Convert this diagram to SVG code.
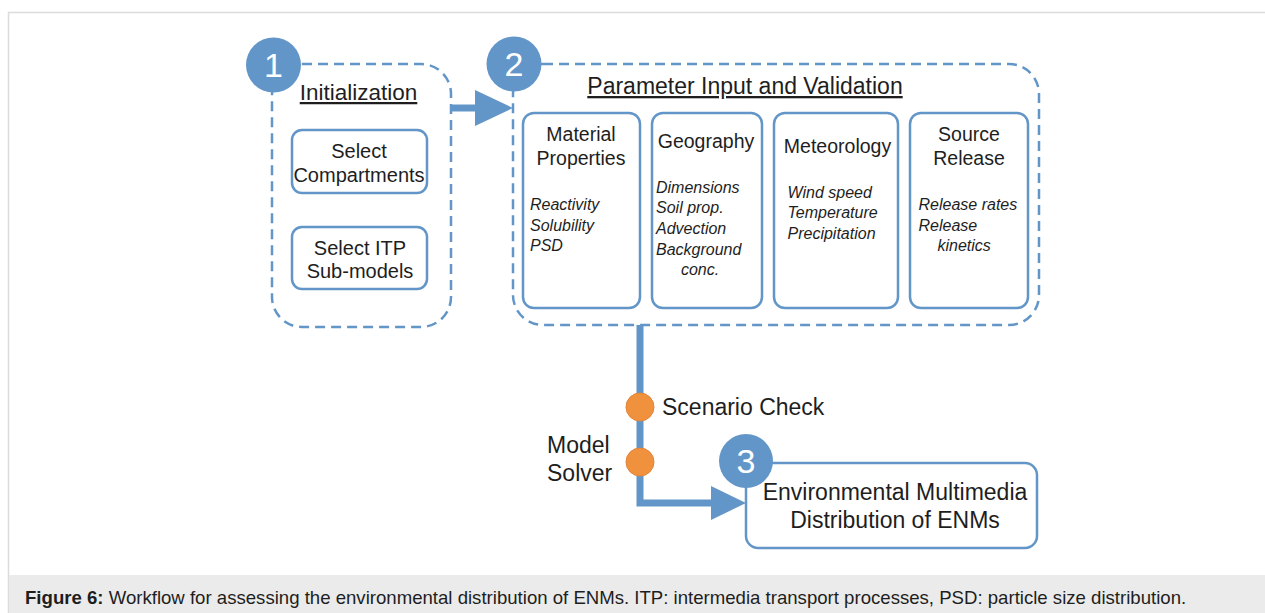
<svg xmlns="http://www.w3.org/2000/svg" width="1265" height="613" viewBox="0 0 1265 613">
<style>
text{font-family:"Liberation Sans",Arial,sans-serif;fill:#1e1e1e}
.dash{fill:none;stroke:#6396c8;stroke-width:2.5;stroke-dasharray:10 6}
.box{fill:#fff;stroke:#6396c8;stroke-width:2.5}
.num{fill:#6396c8}
.numt{fill:#fff;font-size:34px;text-anchor:middle}
.h{font-size:19.5px;text-anchor:middle}
.it{font-size:16px;font-style:italic}
.title{font-size:22.5px;text-decoration:underline}
.big{font-size:23px}
.conn{fill:none;stroke:#6396c8;stroke-width:7}
.head{fill:#6396c8}
.dot{fill:#f0913e;stroke:#e3843a;stroke-width:1}
</style>
<rect x="0" y="0" width="1265" height="613" fill="#fff"/>
<path d="M8.5,613 V12.5 H1265" fill="none" stroke="#dcdcdc" stroke-width="1.5"/>
<rect x="9" y="575" width="1256" height="38" fill="#ebebeb"/>
<text x="25" y="604" style="font-size:18.6px"><tspan font-weight="bold">Figure 6:</tspan> Workflow for assessing the environmental distribution of ENMs. ITP: intermedia transport processes, PSD: particle size distribution.</text>

<g id="connectors">
<path class="conn" d="M451,108 H478"/>
<polygon class="head" points="475,90 513,108 475,126"/>
<path class="conn" d="M640,325 V503 H714"/>
<polygon class="head" points="711,486 746,503 711,520"/>
</g>

<g id="step1">
<rect class="dash" x="272" y="64" width="179" height="263" rx="30"/>
<text class="title" x="358.5" y="100" text-anchor="middle">Initialization</text>
<circle class="num" cx="273.5" cy="65" r="27.5"/>
<text class="numt" x="273.5" y="77">1</text>
</g>
<g id="select-compartments">
<rect class="box" x="292" y="130" width="135" height="63" rx="10"/>
<text class="h" x="359" y="158" style="font-size:20px">Select</text>
<text class="h" x="359" y="182" style="font-size:20px">Compartments</text>
</g>
<g id="select-itp">
<rect class="box" x="292" y="227" width="135" height="62" rx="10"/>
<text class="h" x="360" y="255" style="font-size:20px">Select ITP</text>
<text class="h" x="360" y="278" style="font-size:20px">Sub-models</text>
</g>

<g id="step2">
<rect class="dash" x="513" y="64" width="526" height="261" rx="30"/>
<text class="title" x="745" y="94" text-anchor="middle" style="font-size:23px">Parameter Input and Validation</text>
<circle class="num" cx="514" cy="64" r="27.5"/>
<text class="numt" x="514" y="76">2</text>
</g>
<g id="material">
<rect class="box" x="523" y="113" width="117" height="195" rx="11"/>
<text class="h" x="581" y="141">Material</text>
<text class="h" x="581" y="165">Properties</text>
<text class="it" x="530" y="210">Reactivity</text>
<text class="it" x="530" y="231">Solubility</text>
<text class="it" x="530" y="251">PSD</text>
</g>
<g id="geography">
<rect class="box" x="652" y="113" width="110" height="195" rx="11"/>
<text class="h" x="706" y="148">Geography</text>
<text class="it" x="656" y="193">Dimensions</text>
<text class="it" x="656" y="213">Soil prop.</text>
<text class="it" x="656" y="234">Advection</text>
<text class="it" x="656" y="255">Background</text>
<text class="it" x="700" y="275" text-anchor="middle">conc.</text>
</g>
<g id="meteorology">
<rect class="box" x="774" y="113" width="124" height="195" rx="11"/>
<text class="h" x="837.5" y="153">Meteorology</text>
<text class="it" x="787.5" y="198">Wind speed</text>
<text class="it" x="787.5" y="218">Temperature</text>
<text class="it" x="787.5" y="239">Precipitation</text>
</g>
<g id="source">
<rect class="box" x="910" y="113" width="118" height="195" rx="11"/>
<text class="h" x="969" y="141">Source</text>
<text class="h" x="969" y="165">Release</text>
<text class="it" x="918.5" y="210">Release rates</text>
<text class="it" x="918.5" y="231">Release</text>
<text class="it" x="937.5" y="251">kinetics</text>
</g>

<g id="scenario-check">
<circle class="dot" cx="640" cy="407" r="14"/>
<text class="big" x="662" y="415">Scenario Check</text>
</g>
<g id="model-solver">
<circle class="dot" cx="640" cy="462" r="14"/>
<text class="big" x="547" y="453">Model</text>
<text class="big" x="547" y="481">Solver</text>
</g>

<g id="step3">
<rect class="box" x="746" y="463" width="291" height="85" rx="12"/>
<text class="big" x="895" y="500" text-anchor="middle">Environmental Multimedia</text>
<text class="big" x="895" y="528" text-anchor="middle">Distribution of ENMs</text>
<circle class="num" cx="746" cy="461" r="27"/>
<text class="numt" x="746" y="473">3</text>
</g>
</svg>
